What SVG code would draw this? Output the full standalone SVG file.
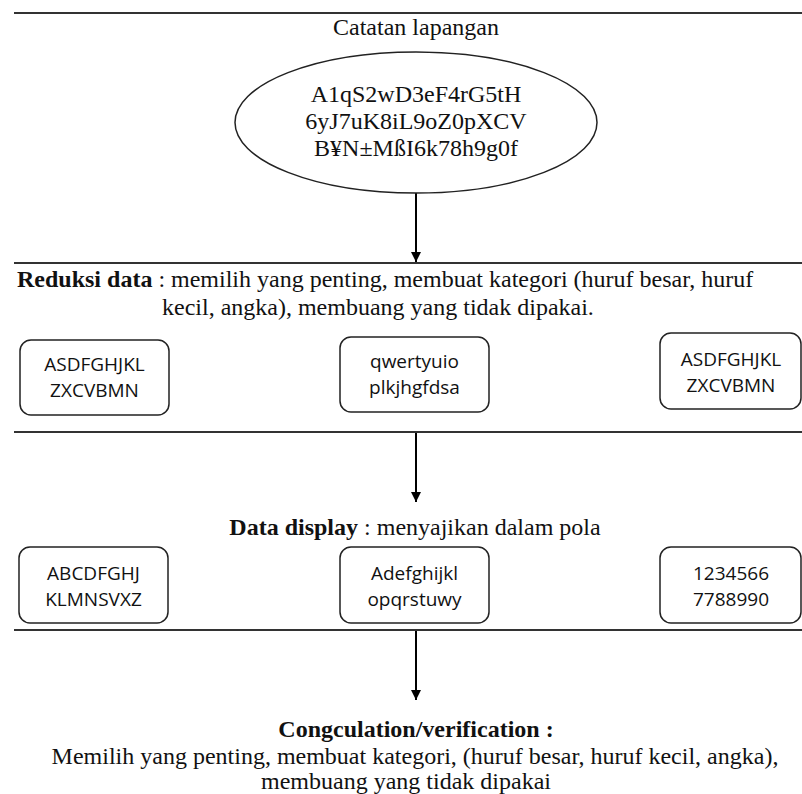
<svg xmlns="http://www.w3.org/2000/svg" width="802" height="794" viewBox="0 0 802 794">
<style>
.serif{font-family:"Liberation Serif","Times New Roman",serif;font-size:24px;fill:#111}
.b{font-weight:bold}
.sans{font-family:"Open Sans","Liberation Sans",sans-serif;font-size:19px;fill:#111;text-anchor:middle}
.box{fill:#fff;stroke:#222;stroke-width:1.5}
.rule{stroke:#333;stroke-width:2}
.arrow{stroke:#000;stroke-width:2;fill:none;marker-end:url(#ah)}
</style>
<defs>
<marker id="ah" viewBox="0 0 10 12" refX="10" refY="6" markerUnits="userSpaceOnUse" markerWidth="10" markerHeight="12" orient="auto">
<path d="M0,1 L10,6 L0,11 Z" fill="#000"/>
</marker>
</defs>
<rect width="802" height="794" fill="#fff"/>
<g id="rules">
<line class="rule" x1="14" y1="13" x2="802" y2="13"/>
<line class="rule" x1="14" y1="263" x2="802" y2="263"/>
<line class="rule" x1="14" y1="432" x2="802" y2="432"/>
<line class="rule" x1="14" y1="630" x2="802" y2="630" stroke-width="2.5" stroke="#444"/>
</g>
<g id="connectors">
<line class="arrow" x1="416" y1="193" x2="416" y2="262"/>
<line class="arrow" x1="416" y1="433" x2="416" y2="502"/>
<line class="arrow" x1="416" y1="631" x2="416" y2="700"/>
</g>
<g id="title">
<text class="serif" x="416" y="35" text-anchor="middle">Catatan lapangan</text>
</g>
<g id="field-notes">
<ellipse cx="416" cy="122.5" rx="181" ry="70.5" fill="#fff" stroke="#222" stroke-width="1.5"/>
<text class="serif" x="416" y="102" text-anchor="middle">A1qS2wD3eF4rG5tH</text>
<text class="serif" x="416" y="129" text-anchor="middle">6yJ7uK8iL9oZ0pXCV</text>
<text class="serif" x="416" y="156" text-anchor="middle">B¥N±MßI6k78h9g0f</text>
</g>
<g id="reduksi-label">
<text class="serif" x="17" y="287"><tspan class="b">Reduksi data</tspan> : memilih yang penting, membuat kategori (huruf besar, huruf</text>
<text class="serif" x="162" y="315">kecil, angka), membuang yang tidak dipakai.</text>
</g>
<g id="r1-left">
<rect class="box" x="20" y="340" width="149" height="75" rx="11"/>
<text class="sans" x="94.5" y="371">ASDFGHJKL</text>
<text class="sans" x="94.5" y="397">ZXCVBMN</text>
</g>
<g id="r1-mid">
<rect class="box" x="340" y="337" width="149" height="75" rx="11"/>
<text class="sans" x="414.5" y="368">qwertyuio</text>
<text class="sans" x="414.5" y="394">plkjhgfdsa</text>
</g>
<g id="r1-right">
<rect class="box" x="660" y="333" width="141" height="76" rx="11"/>
<text class="sans" x="731" y="366">ASDFGHJKL</text>
<text class="sans" x="731" y="392">ZXCVBMN</text>
</g>
<g id="display-label">
<text class="serif" x="415" y="535" text-anchor="middle"><tspan class="b">Data display</tspan> : menyajikan dalam pola</text>
</g>
<g id="r2-left">
<rect class="box" x="19" y="547" width="149" height="76" rx="11"/>
<text class="sans" x="93.5" y="580">ABCDFGHJ</text>
<text class="sans" x="93.5" y="606">KLMNSVXZ</text>
</g>
<g id="r2-mid">
<rect class="box" x="340" y="547" width="149" height="76" rx="11"/>
<text class="sans" x="414.5" y="580">Adefghijkl</text>
<text class="sans" x="414.5" y="606">opqrstuwy</text>
</g>
<g id="r2-right">
<rect class="box" x="660" y="547" width="141" height="76" rx="11"/>
<text class="sans" x="731" y="580">1234566</text>
<text class="sans" x="731" y="606">7788990</text>
</g>
<g id="conclusion">
<text class="serif b" x="416" y="737" text-anchor="middle">Congculation/verification :</text>
<text class="serif" x="415" y="764" text-anchor="middle">Memilih yang penting, membuat kategori, (huruf besar, huruf kecil, angka),</text>
<text class="serif" x="406" y="789" text-anchor="middle">membuang yang tidak dipakai</text>
</g>
</svg>
